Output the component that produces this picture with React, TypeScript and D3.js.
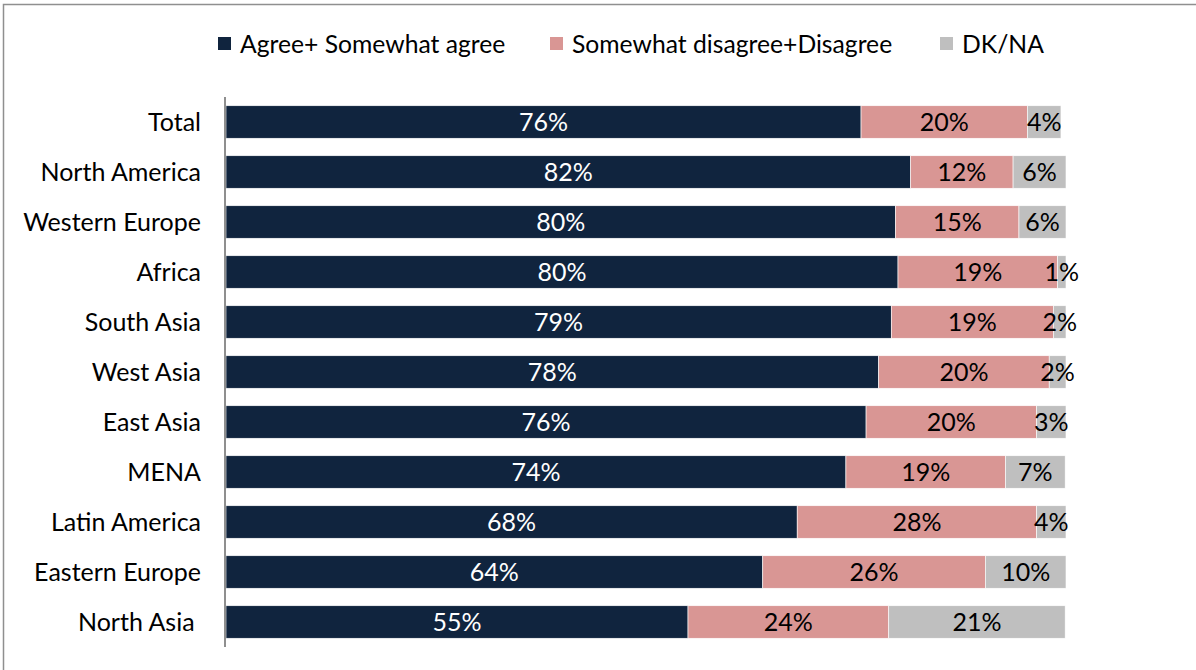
import React from "react";
import * as d3 from "d3";

const categories = [
  "Total",
  "North America",
  "Western Europe",
  "Africa",
  "South Asia",
  "West Asia",
  "East Asia",
  "MENA",
  "Latin America",
  "Eastern Europe",
  "North Asia ",
];
// bar lengths
const agree = [75.6, 81.5, 79.7, 80.0, 79.2, 77.7, 76.2, 73.8, 68.0, 63.9, 55.0];
const disagree = [19.8, 12.2, 14.7, 19.0, 19.3, 20.3, 20.3, 19.0, 28.5, 26.5, 23.9];
const dkna = [4.0, 6.3, 5.6, 1.0, 1.5, 2.0, 3.5, 7.1, 3.5, 9.6, 21.0];
// data labels as printed in the picture
const agreeLabels = ["76%", "82%", "80%", "80%", "79%", "78%", "76%", "74%", "68%", "64%", "55%"];
const disagreeLabels = ["20%", "12%", "15%", "19%", "19%", "20%", "20%", "19%", "28%", "26%", "24%"];
const dknaLabels = ["4%", "6%", "6%", "1%", "2%", "2%", "3%", "7%", "4%", "10%", "21%"];
const seriesNames = ["Agree+ Somewhat agree", "Somewhat disagree+Disagree", "DK/NA"];
const seriesColors = ["#10243e", "#d99694", "#bfbfbf"];
const labelColors = ["#ffffff", "#000000", "#000000"];

const W = 1196;
const H = 670;
const FONT = "Lato, 'Open Sans', sans-serif";

export default function App() {
  const x = d3.scaleLinear().domain([0, 100]).range([226, 1066]);
  const y = d3
    .scaleBand<string>()
    .domain(categories)
    .range([97, 647])
    .paddingInner(0.35)
    .paddingOuter(0.175);

  const rows = categories.map((c, i) => ({
    c,
    vals: [agree[i], disagree[i], dkna[i]],
    labels: [agreeLabels[i], disagreeLabels[i], dknaLabels[i]],
  }));
  const legendX = [218, 550, 940];

  return (
    <svg
      width={W}
      height={H}
      style={{ position: "absolute", left: 0, top: 0, background: "#fff" }}
      fontFamily={FONT}
    >
      <rect x={3.5} y={4.5} width={W + 20} height={H + 20} fill="#fff" stroke="#8f8f8f" strokeWidth={1.5} />
      {/* legend */}
      {seriesNames.map((n, i) => (
        <g key={n}>
          <rect x={legendX[i]} y={37} width={13} height={13} fill={seriesColors[i]} />
          <text x={legendX[i] + 22} y={43} dominantBaseline="central" fontSize={24.7} fill="#000">
            {n}
          </text>
        </g>
      ))}
      {/* bars */}
      {rows.map((r) => {
        let acc = 0;
        const yy = y(r.c)!;
        const bh = y.bandwidth();
        return (
          <g key={r.c}>
            {r.vals.map((v, j) => {
              const x0 = x(acc);
              acc += v;
              const x1 = x(acc);
              return (
                <g key={j}>
                  <rect x={x0} y={yy} width={x1 - x0} height={bh} fill={seriesColors[j]} stroke="#ffffff" strokeWidth={0.6} />
                  <text
                    x={(x0 + x1) / 2}
                    y={yy + bh / 2 - 1}
                    textAnchor="middle"
                    dominantBaseline="central"
                    fontSize={25}
                    fill={labelColors[j]}
                  >
                    {r.labels[j]}
                  </text>
                </g>
              );
            })}
            <text
              x={201}
              y={yy + bh / 2 - 1}
              textAnchor="end"
              dominantBaseline="central"
              fontSize={25}
              fill="#000"
              style={{ whiteSpace: "pre" }}
            >
              {r.c}
            </text>
          </g>
        );
      })}
      <line x1={225} x2={225} y1={97} y2={647} stroke="#8f8f8f" strokeWidth={2} />
    </svg>
  );
}
